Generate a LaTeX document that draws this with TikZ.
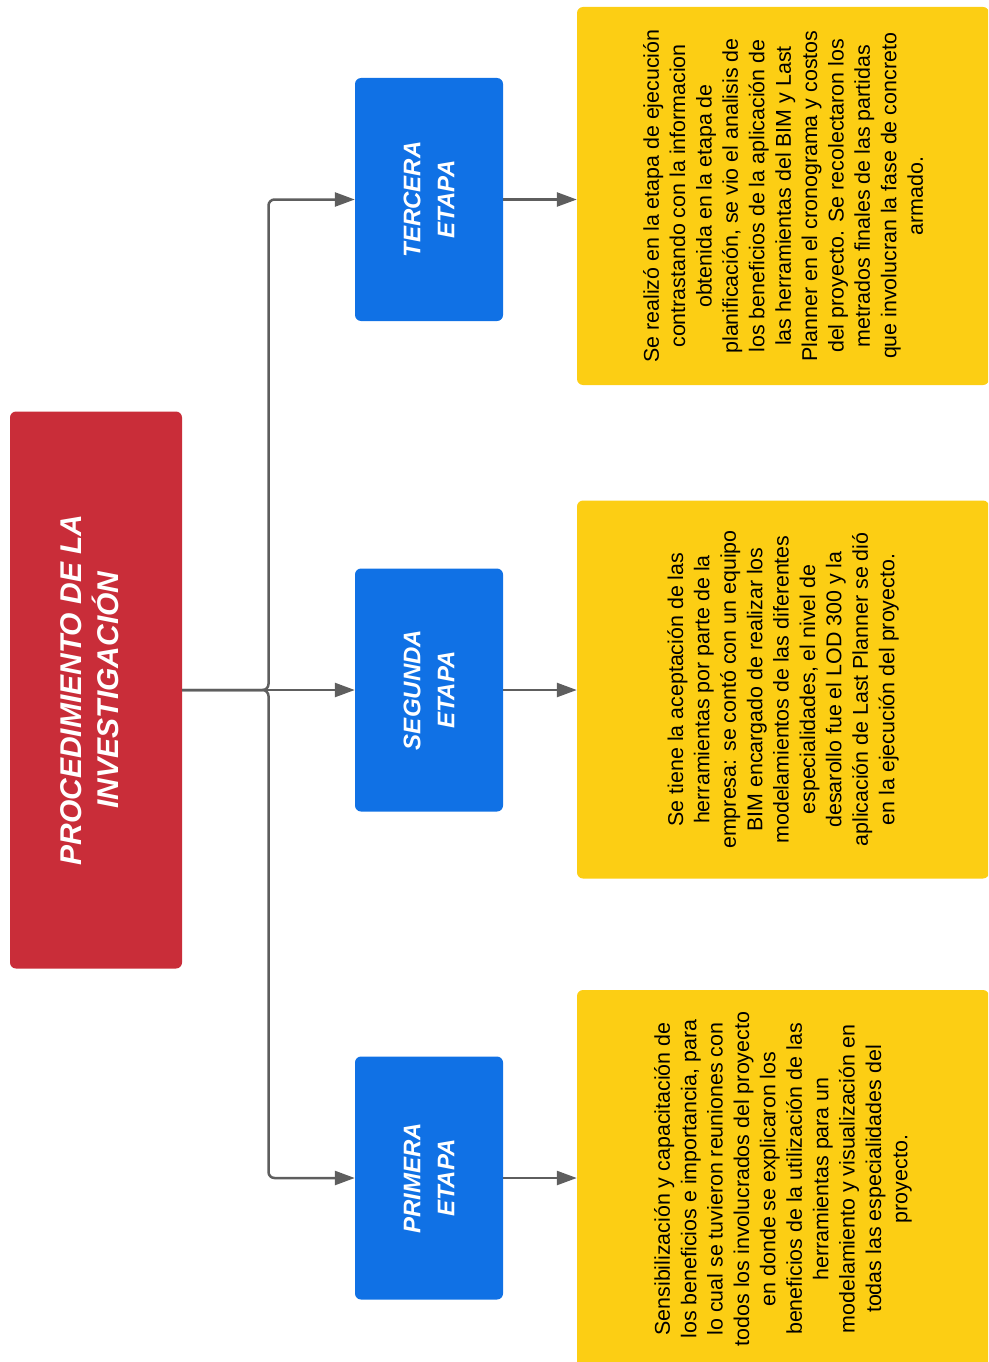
\documentclass[tikz,border=0pt]{standalone}
\usepackage{fontspec}
\setmainfont{Liberation Sans}
\usepackage{graphicx}
\usetikzlibrary{arrows.meta}

\definecolor{procred}{HTML}{C92D39}
\definecolor{stageblue}{HTML}{1071E5}
\definecolor{noteyellow}{HTML}{FCCE14}
\definecolor{linkgray}{HTML}{5E5E5E}

% text set upright, then turned to read from bottom to top
\newcommand\vtext[2]{\rotatebox{90}{\parbox{#1}{\centering #2}}}

\tikzset{
  box/.style={rectangle, rounded corners=6pt, inner sep=0pt, draw=none},
  titlebox/.style={box, fill=procred, text=white, minimum width=172pt, minimum height=557pt},
  stagebox/.style={box, fill=stageblue, text=white, minimum width=148pt, minimum height=243pt},
  notebox/.style={box, fill=noteyellow, text=black, minimum width=412pt, minimum height=378pt},
  link/.style={draw=linkgray, line width=2.5pt, rounded corners=6pt},
  arrowlink/.style={link, -{Triangle[length=20pt,width=14pt]}, fill=none}
}

\newcommand\notesize{\fontsize{21.4}{26.4}\selectfont}

\begin{document}
\begin{tikzpicture}[x=1pt, y=-1pt]
\useasboundingbox (0,0) rectangle (988,1362);
\clip (0,0) rectangle (988,1362);

% main topic (extra space after the lines keeps the title left of centre)
\node[titlebox] (proc) at (96,690)
  {\vtext{520pt}{\fontsize{30}{37}\selectfont\bfseries\itshape PROCEDIMIENTO DE LA\\INVESTIGACIÓN\par\vspace*{12pt}}};

% stages
\node[stagebox] (st3) at (429,199.5)
  {\vtext{220pt}{\fontsize{24}{34}\selectfont\bfseries\itshape TERCERA\\ETAPA}};
\node[stagebox] (st2) at (429,690)
  {\vtext{220pt}{\fontsize{24}{34}\selectfont\bfseries\itshape SEGUNDA\\ETAPA}};
\node[stagebox] (st1) at (429,1178)
  {\vtext{220pt}{\fontsize{24}{34}\selectfont\bfseries\itshape PRIMERA\\ETAPA}};

% descriptions
\node[notebox] (nt3) at (783,196)
  {\vtext{372pt}{\notesize
   Se realizó en la etapa de ejecución\\
   contrastando con la informacion\\
   obtenida en la etapa de\\
   planificación, se vio el analisis de\\
   los beneficios de la aplicación de\\
   las herramientas del BIM y Last\\
   Planner en el cronograma y costos\\
   del proyecto. Se recolectaron los\\
   metrados finales de las partidas\\
   que involucran la fase de concreto\\
   armado.}};
\node[notebox] (nt2) at (783,689.5)
  {\vtext{372pt}{\notesize
   Se tiene la aceptación de las\\
   herramientas por parte de la\\
   empresa: se contó con un equipo\\
   BIM encargado de realizar los\\
   modelamientos de las diferentes\\
   especialidades, el nivel de\\
   desarollo fue el LOD 300 y la\\
   aplicación de Last Planner se dió\\
   en la ejecución del proyecto.}};
\node[notebox] (nt1) at (783,1179)
  {\vtext{372pt}{\notesize
   Sensibilización y capacitación de\\
   los beneficios e importancia, para\\
   lo cual se tuvieron reuniones con\\
   todos los involucrados del proyecto\\
   en donde se explicaron los\\
   beneficios de la utilización de las\\
   herramientas para un\\
   modelamiento y visualización en\\
   todas las especialidades del\\
   proyecto.}};

% branching connectors
\coordinate (fork) at (268.5,690);
\draw[arrowlink] (proc.east) -- (fork) |- (st3.west);
\draw[arrowlink] (proc.east) -- (fork) |- (st1.west);
\draw[arrowlink] (proc.east) -- (st2.west);

% stage to description
\draw[arrowlink] (st3.east) -- (st3.east -| nt3.west);
\draw[arrowlink] (st2.east) -- (st2.east -| nt2.west);
\draw[arrowlink] (st1.east) -- (st1.east -| nt1.west);
\end{tikzpicture}
\end{document}
